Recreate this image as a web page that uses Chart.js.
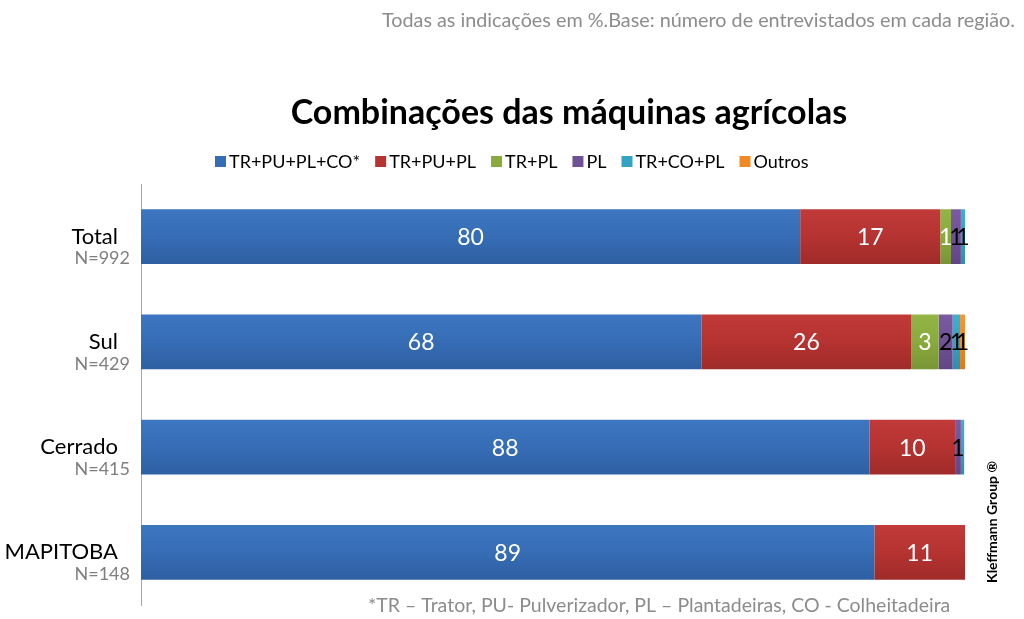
<!DOCTYPE html>
<html><head><meta charset="utf-8">
<script src="https://cdn.jsdelivr.net/npm/chart.js@4"></script>
<style>html,body{margin:0;padding:0;background:#fff}#wrap{width:1024px;height:619px;position:relative}</style>
</head><body><div id="wrap"><canvas id="c" width="1024" height="619"></canvas></div>
<script>
const categories = ['Total', 'Sul', 'Cerrado', 'MAPITOBA'];
const baseLabels = ['N=992', 'N=429', 'N=415', 'N=148'];
const seriesNames = ['TR+PU+PL+CO*', 'TR+PU+PL', 'TR+PL', 'PL', 'TR+CO+PL', 'Outros'];
const trPuPlCo = [80, 68, 88.4, 89];
const trPuPl = [17, 25.5, 10.4, 11];
const trPl = [1.3, 3.3, 0, 0];
const pl = [1.2, 1.7, 0.7, 0];
const trCoPl = [0.5, 0.9, 0.4, 0];
const outros = [0, 0.6, 0, 0];
const titleText = 'Combinações das máquinas agrícolas';
const noteText = 'Todas as indicações em %.Base: número de entrevistados em cada região.';
const footText = '*TR – Trator, PU- Pulverizador, PL – Plantadeiras, CO - Colheitadeira';
const brandText = 'Kleffmann Group ®';

const colors = ['#366db5', '#b53331', '#89aa3d', '#6f5196', '#33a3c3', '#ef8a25'];
const topColors = ['#3d76c0', '#c03a38', '#93b546', '#7a5ba3', '#3cb0d0', '#f7953a'];
const botColors = ['#2e5fa2', '#9f2b29', '#789535', '#614686', '#2b90ad', '#d97a1d'];
const labelColors = ['#fff', '#fff', '#fff', '#000', '#000', '#000'];
const FONT = 'Lato, "Open Sans", sans-serif';
const allValues = [trPuPlCo, trPuPl, trPl, pl, trCoPl, outros];

function barFill(di) {
  return function (ctx) {
    const chart = ctx.chart;
    const ys = chart.scales && chart.scales.y;
    if (!ys || ctx.dataIndex === undefined || !isFinite(ys.top)) return colors[di];
    const y = ys.getPixelForValue(ctx.dataIndex);
    const half = (ys.bottom - ys.top) / categories.length * 0.52 / 2;
    if (!isFinite(y) || !isFinite(half)) return colors[di];
    const g = chart.ctx.createLinearGradient(0, y - half, 0, y + half);
    g.addColorStop(0, topColors[di]);
    g.addColorStop(0.5, colors[di]);
    g.addColorStop(1, botColors[di]);
    return g;
  };
}

const textPlugin = {
  id: 'texts',
  afterDatasetsDraw(chart) {
    const ctx = chart.ctx;
    ctx.save();
    ctx.textBaseline = 'middle';
    ctx.textAlign = 'center';
    ctx.font = '23px ' + FONT;
    chart.data.datasets.forEach((ds, di) => {
      const meta = chart.getDatasetMeta(di);
      meta.data.forEach((el, i) => {
        const v = Math.round(ds.data[i]);
        if (!v) return;
        ctx.fillStyle = labelColors[di];
        ctx.fillText(String(v), (el.x + el.base) / 2, el.y + 1);
      });
    });
    ctx.restore();
  },
  afterDraw(chart) {
    const ctx = chart.ctx;
    const ys = chart.scales.y;
    ctx.save();
    ctx.textBaseline = 'middle';
    // category labels
    categories.forEach((c, i) => {
      const y = ys.getPixelForValue(i);
      ctx.textAlign = 'right';
      ctx.fillStyle = '#000';
      ctx.font = '22px ' + FONT;
      ctx.fillText(c, 118, y);
      ctx.fillStyle = '#7f7f7f';
      ctx.font = '18px ' + FONT;
      ctx.fillText(baseLabels[i], 130, y + 22);
    });
    // title
    ctx.textAlign = 'center';
    ctx.fillStyle = '#000';
    ctx.font = 'bold 34px ' + FONT;
    ctx.fillText(titleText, 569, 113);
    // legend
    ctx.font = '18px ' + FONT;
    ctx.textAlign = 'left';
    let x = 215;
    seriesNames.forEach((n, i) => {
      ctx.fillStyle = colors[i];
      ctx.fillRect(x, 156, 11, 11);
      ctx.fillStyle = '#000';
      ctx.fillText(n, x + 14, 162);
      x += 14 + ctx.measureText(n).width + 15;
    });
    // notes
    ctx.textAlign = 'right';
    ctx.fillStyle = '#8c8c8c';
    ctx.font = '19.8px ' + FONT;
    ctx.fillText(noteText, 1015, 21);
    ctx.textAlign = 'left';
    ctx.font = '19.5px ' + FONT;
    ctx.fillText(footText, 368, 606);
    ctx.translate(992, 522);
    ctx.rotate(-Math.PI / 2);
    ctx.textAlign = 'center';
    ctx.fillStyle = '#000';
    ctx.font = 'bold 14px ' + FONT;
    ctx.fillText(brandText, 0, 0);
    ctx.restore();
  }
};

new Chart(document.getElementById('c'), {
  type: 'bar',
  data: {
    labels: categories,
    datasets: seriesNames.map((n, i) => ({
      label: n,
      data: allValues[i],
      backgroundColor: barFill(i),
      borderWidth: 0,
      barPercentage: 0.52,
      categoryPercentage: 1
    }))
  },
  options: {
    indexAxis: 'y',
    responsive: false,
    animation: false,
    layout: { padding: { left: 133, right: 59, top: 184, bottom: 14 } },
    scales: {
      x: { stacked: true, min: 0, max: 100, display: false },
      y: {
        stacked: true,
        grid: { display: false },
        ticks: { display: false },
        border: { display: true, color: '#a6a6a6', width: 1 }
      }
    },
    plugins: {
      tooltip: { enabled: false },
      title: { display: false },
      legend: { display: false }
    }
  },
  plugins: [textPlugin]
});
</script></body></html>
